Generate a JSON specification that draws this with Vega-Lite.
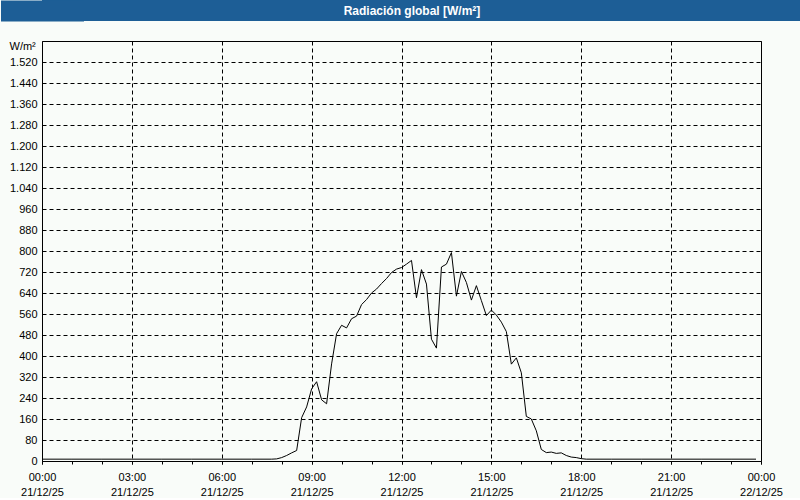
{
  "$schema": "https://vega.github.io/schema/vega-lite/v6.json",
  "background": "#f9fcf9",
  "padding": 0,
  "spacing": 19,
  "align": "none",
  "config": {"font": "Liberation Sans"},
  "vconcat": [
    {
      "width": 759,
      "height": 21,
      "view": {"fill": "#1d5e96", "stroke": null},
      "data": {"values": [{"title": "Radiación global [W/m²]"}]},
      "mark": {"type": "text", "color": "#ffffff", "fontWeight": "bold", "fontSize": 12, "font": "Liberation Sans", "dx": -9.5, "baseline": "middle"},
      "encoding": {
        "text": {"field": "title", "type": "nominal"},
        "y": {
          "field": "title",
          "type": "nominal",
          "scale": {"paddingInner": 0, "paddingOuter": 0},
          "axis": {"title": null, "labels": false, "ticks": false, "grid": false, "domain": true, "domainColor": "#1d5e96", "domainWidth": 83, "domainCap": "butt"}
        }
      }
    },
    {
      "width": 719,
      "height": 420,
      "view": {"fill": "#f9fcf9", "stroke": "#000000", "strokeWidth": 1},
      "data": {"values": [
        {"minute": 0, "value": 7},
        {"minute": 60, "value": 7},
        {"minute": 120, "value": 7},
        {"minute": 180, "value": 7},
        {"minute": 240, "value": 7},
        {"minute": 300, "value": 7},
        {"minute": 360, "value": 7},
        {"minute": 420, "value": 7},
        {"minute": 460, "value": 7},
        {"minute": 470, "value": 8},
        {"minute": 480, "value": 13},
        {"minute": 490, "value": 21},
        {"minute": 500, "value": 31},
        {"minute": 510, "value": 40},
        {"minute": 520, "value": 165},
        {"minute": 530, "value": 206},
        {"minute": 540, "value": 275},
        {"minute": 550, "value": 302},
        {"minute": 560, "value": 233},
        {"minute": 570, "value": 218},
        {"minute": 580, "value": 370},
        {"minute": 590, "value": 485},
        {"minute": 600, "value": 517},
        {"minute": 610, "value": 507},
        {"minute": 620, "value": 542},
        {"minute": 630, "value": 552},
        {"minute": 640, "value": 596},
        {"minute": 650, "value": 615},
        {"minute": 660, "value": 640},
        {"minute": 670, "value": 655},
        {"minute": 680, "value": 676},
        {"minute": 690, "value": 695},
        {"minute": 700, "value": 718},
        {"minute": 710, "value": 731},
        {"minute": 720, "value": 737},
        {"minute": 730, "value": 750},
        {"minute": 740, "value": 764},
        {"minute": 750, "value": 622},
        {"minute": 760, "value": 729},
        {"minute": 770, "value": 674},
        {"minute": 780, "value": 464},
        {"minute": 790, "value": 430},
        {"minute": 800, "value": 739},
        {"minute": 810, "value": 750},
        {"minute": 820, "value": 794},
        {"minute": 830, "value": 628},
        {"minute": 840, "value": 722},
        {"minute": 850, "value": 680},
        {"minute": 860, "value": 613},
        {"minute": 870, "value": 668},
        {"minute": 880, "value": 611},
        {"minute": 890, "value": 554},
        {"minute": 900, "value": 575},
        {"minute": 910, "value": 556},
        {"minute": 920, "value": 529},
        {"minute": 930, "value": 493},
        {"minute": 940, "value": 369},
        {"minute": 950, "value": 393},
        {"minute": 960, "value": 336},
        {"minute": 970, "value": 170},
        {"minute": 980, "value": 160},
        {"minute": 990, "value": 115},
        {"minute": 1000, "value": 44},
        {"minute": 1010, "value": 32},
        {"minute": 1020, "value": 34},
        {"minute": 1030, "value": 29},
        {"minute": 1040, "value": 31},
        {"minute": 1050, "value": 21},
        {"minute": 1060, "value": 15},
        {"minute": 1070, "value": 13},
        {"minute": 1080, "value": 9},
        {"minute": 1090, "value": 7},
        {"minute": 1140, "value": 7},
        {"minute": 1200, "value": 7},
        {"minute": 1260, "value": 7},
        {"minute": 1320, "value": 7},
        {"minute": 1380, "value": 7},
        {"minute": 1430, "value": 7}
      ]},
      "resolve": {"axis": {"x": "independent"}},
      "layer": [
        {
          "mark": {"type": "line", "color": "#000000", "strokeWidth": 1, "opacity": 0},
          "encoding": {
            "x": {
              "field": "minute",
              "type": "quantitative",
              "scale": {"domain": [0, 1440], "nice": false, "zero": false},
              "axis": {
                "orient": "bottom",
                "title": null,
                "values": [0, 60, 120, 180, 240, 300, 360, 420, 480, 540, 600, 660, 720, 780, 840, 900, 960, 1020, 1080, 1140, 1200, 1260, 1320, 1380, 1440],
                "tickCount": 30,
                "grid": false,
                "domain": false,
                "labels": false,
                "ticks": true,
                "tickSize": 3,
                "tickColor": "#000000",
                "maxExtent": 3,
                "minExtent": 3
              }
            },
            "y": {
              "field": "value",
              "type": "quantitative",
              "scale": {"domain": [0, 1600], "nice": false, "zero": true},
              "axis": {
                "title": "\u2800W/m²",
                "titleAngle": 0,
                "titleX": -41,
                "titleY": 5.5,
                "titleAlign": "left",
                "titleBaseline": "middle",
                "titleFontWeight": "normal",
                "titleFontSize": 11,
                "titleFont": "Liberation Sans",
                "titleColor": "#000000",
                "values": [0, 80, 160, 240, 320, 400, 480, 560, 640, 720, 800, 880, 960, 1040, 1120, 1200, 1280, 1360, 1440, 1520],
                "tickCount": 30,
                "labelOverlap": false,
                "grid": true,
                "gridColor": "#000000",
                "gridDash": [4, 3],
                "gridWidth": 1,
                "domain": false,
                "ticks": false,
                "labelExpr": "replace(format(datum.value, ',d'), ',', '.')",
                "labelFont": "Liberation Sans",
                "labelFontSize": 11,
                "labelColor": "#000000",
                "labelPadding": 5
              }
            }
          }
        },
        {
          "mark": {"type": "line", "color": "#000000", "strokeWidth": 1},
          "encoding": {
            "x": {
              "field": "minute",
              "type": "quantitative",
              "scale": {"domain": [0, 1440], "nice": false, "zero": false},
              "axis": {
                "orient": "bottom",
                "title": null,
                "values": [0, 180, 360, 540, 720, 900, 1080, 1260, 1440],
                "tickCount": 30,
                "grid": true,
                "gridColor": "#000000",
                "gridDash": [4, 3],
                "gridWidth": 1,
                "domain": false,
                "ticks": true,
                "tickSize": 3,
                "tickColor": "#000000",
                "labelExpr": "[(floor(datum.value / 60) % 24 < 10 ? '0' : '') + (floor(datum.value / 60) % 24) + ':00', datum.value >= 1440 ? '22/12/25' : '21/12/25']",
                "labelFont": "Liberation Sans",
                "labelFontSize": 11,
                "labelColor": "#000000",
                "labelPadding": 7,
                "labelLineHeight": 15,
                "labelOverlap": false,
                "labelFlush": false,
                "labelBound": false
              }
            },
            "y": {
              "field": "value",
              "type": "quantitative",
              "scale": {"domain": [0, 1600], "nice": false, "zero": true},
              "axis": {
                "title": "\u2800W/m²",
                "titleAngle": 0,
                "titleX": -41,
                "titleY": 5.5,
                "titleAlign": "left",
                "titleBaseline": "middle",
                "titleFontWeight": "normal",
                "titleFontSize": 11,
                "titleFont": "Liberation Sans",
                "titleColor": "#000000",
                "values": [0, 80, 160, 240, 320, 400, 480, 560, 640, 720, 800, 880, 960, 1040, 1120, 1200, 1280, 1360, 1440, 1520],
                "tickCount": 30,
                "labelOverlap": false,
                "grid": true,
                "gridColor": "#000000",
                "gridDash": [4, 3],
                "gridWidth": 1,
                "domain": false,
                "ticks": false,
                "labelExpr": "replace(format(datum.value, ',d'), ',', '.')",
                "labelFont": "Liberation Sans",
                "labelFontSize": 11,
                "labelColor": "#000000",
                "labelPadding": 5
              }
            }
          }
        }
      ]
    }
  ]
}
